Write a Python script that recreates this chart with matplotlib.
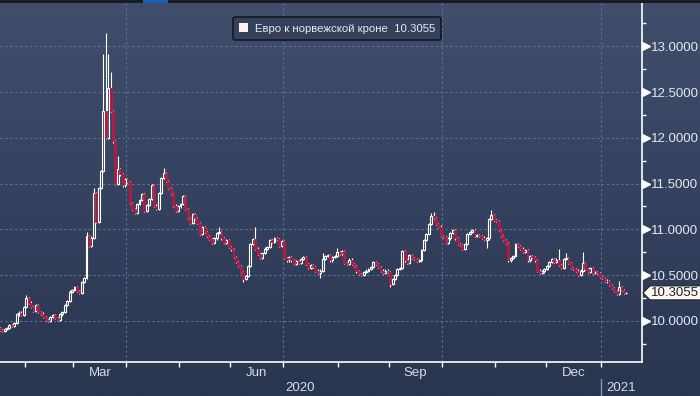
import numpy as np
import pandas as pd
import matplotlib
matplotlib.use('Agg')
import matplotlib.pyplot as plt
import matplotlib.transforms as mtransforms
from matplotlib.patches import Patch, Polygon, Rectangle
from matplotlib.lines import Line2D
from matplotlib.colors import LinearSegmentedColormap

plt.rcParams['font.family'] = ['Liberation Sans', 'DejaVu Sans']

# -------------------------------------------------------------
# Data: EUR/NOK daily closes, one list per month (trading days)
# -------------------------------------------------------------
jan20 = [9.90, 9.89, 9.91, 9.92, 9.95, 9.94, 9.98, 10.07, 10.09, 10.06, 10.15]
feb20 = [10.25, 10.20, 10.15, 10.11, 10.17, 10.10, 10.08, 10.04, 10.01, 10.00,
         10.04, 10.06, 10.03, 10.01, 10.07, 10.10, 10.17, 10.22, 10.32, 10.34]
mar20 = [10.37, 10.33, 10.30, 10.42, 10.47, 10.93, 10.82, 10.91, 11.40, 11.08, 11.45,
         11.64, 12.29, 12.00, 12.55, 12.29, 11.96, 11.50, 11.66, 11.60, 11.48, 11.55]
apr20 = [11.52, 11.29, 11.22, 11.18, 11.28, 11.32, 11.39, 11.20, 11.27, 11.33, 11.48,
         11.26, 11.22, 11.40, 11.56, 11.62, 11.53, 11.45, 11.39, 11.26, 11.20, 11.25]
may20 = [11.28, 11.36, 11.22, 11.12, 11.07, 11.17, 11.12, 11.07, 10.95, 11.02, 10.97,
         10.93, 10.89, 10.85, 10.90, 10.96, 10.97, 10.90, 10.85, 10.88, 10.81]
jun20 = [10.78, 10.70, 10.64, 10.60, 10.53, 10.46, 10.49, 10.60, 10.84, 10.89, 10.79,
         10.73, 10.69, 10.74, 10.79, 10.81, 10.88, 10.86, 10.90, 10.89, 10.82, 10.87]
jul20 = [10.69, 10.66, 10.70, 10.66, 10.62, 10.65, 10.63, 10.68, 10.70, 10.62, 10.58, 10.61,
         10.59, 10.55, 10.52, 10.55, 10.68, 10.71, 10.72, 10.66, 10.70, 10.71, 10.75]
aug20 = [10.73, 10.76, 10.63, 10.62, 10.67, 10.62, 10.60, 10.54, 10.51, 10.50, 10.53,
         10.55, 10.57, 10.59, 10.64, 10.62, 10.59, 10.55, 10.52, 10.55, 10.53]
sep20 = [10.40, 10.46, 10.50, 10.57, 10.58, 10.76, 10.66, 10.63, 10.72, 10.69, 10.68,
         10.65, 10.66, 10.77, 10.88, 10.95, 11.06, 11.15, 11.12, 11.06, 11.03, 10.93]
oct20 = [10.92, 10.85, 10.90, 10.96, 10.99, 10.90, 10.84, 10.83, 10.79, 10.84, 10.95,
         10.97, 10.99, 10.93, 10.94, 10.93, 10.91, 10.88, 10.90, 11.11, 11.16, 11.10]
nov20 = [11.09, 10.99, 10.93, 10.88, 10.85, 10.66, 10.69, 10.71, 10.84, 10.82, 10.79,
         10.75, 10.77, 10.66, 10.71, 10.70, 10.66, 10.55, 10.52, 10.54, 10.57]
dec20 = [10.60, 10.64, 10.68, 10.64, 10.67, 10.61, 10.58, 10.68, 10.69, 10.63, 10.58, 10.57,
         10.55, 10.50, 10.55, 10.63, 10.57, 10.53, 10.58, 10.52, 10.53, 10.52, 10.48]
jan21 = [10.47, 10.44, 10.43, 10.39, 10.36, 10.33, 10.29, 10.37, 10.34, 10.30, 10.3055]

first_open = 9.92

# notable wicks
hi_dates = ['2020-02-03', '2020-03-09', '2020-03-12', '2020-03-18', '2020-03-19',
            '2020-03-20', '2020-03-23', '2020-03-26', '2020-04-22', '2020-05-25',
            '2020-06-15', '2020-07-23', '2020-07-31', '2020-09-24', '2020-09-25',
            '2020-10-29', '2020-12-08', '2020-12-11', '2020-12-22', '2021-01-12']
hi_vals = [10.28, 10.97, 11.45, 12.92, 13.15,
           12.92, 12.72, 11.80, 11.67, 11.02,
           11.02, 10.74, 10.80, 11.18, 11.19,
           11.21, 10.78, 10.74, 10.75, 10.43]
lo_dates = ['2020-06-08', '2020-07-22', '2020-09-01', '2020-10-27']
lo_vals = [10.42, 10.47, 10.37, 10.80]

legend_label = 'Евро к норвежской кроне  10.3055'
last_label = '10.3055'
month_labels = {3: 'Mar', 6: 'Jun', 9: 'Sep', 12: 'Dec'}

# -------------------------------------------------------------
# Build OHLC
# -------------------------------------------------------------
dates = pd.bdate_range('2020-01-17', '2021-01-15')
closes = np.array(jan20 + feb20 + mar20 + apr20 + may20 + jun20 + jul20 +
                  aug20 + sep20 + oct20 + nov20 + dec20 + jan21)
opens = np.concatenate([[first_open], closes[:-1]])
WICK = 0.012
highs = np.maximum(opens, closes) + WICK
lows = np.minimum(opens, closes) - WICK
for d, v in zip(hi_dates, hi_vals):
    highs[dates.get_loc(pd.Timestamp(d))] = v
for d, v in zip(lo_dates, lo_vals):
    lows[dates.get_loc(pd.Timestamp(d))] = v

x = np.arange(len(dates))
up = closes >= opens
dn = ~up
body_top = np.maximum(opens, closes)
body_bot = np.minimum(opens, closes)

# -------------------------------------------------------------
# Figure
# -------------------------------------------------------------
W, H = 700, 396
fig = plt.figure(figsize=(W / 100, H / 100), dpi=100)

bg = fig.add_axes([0, 0, 1, 1], zorder=-10)
bg.axis('off')
cmap = LinearSegmentedColormap.from_list('bg', ['#404e6c', '#35425f', '#2a354f'])
bg.imshow(np.linspace(0, 1, 256).reshape(-1, 1), aspect='auto', cmap=cmap,
          extent=[0, 1, 0, 1])
bg.set_xlim(0, 1)
bg.set_ylim(0, 1)
# top strip
fig.patches.append(Rectangle((0, 1 - 2.5 / H), 1, 2.5 / H, transform=fig.transFigure,
                             facecolor='#1a1c21', edgecolor='none', zorder=5))
fig.patches.append(Rectangle((143 / W, 1 - 2.5 / H), 25 / W, 2.5 / H, transform=fig.transFigure,
                             facecolor='#1f5cb8', edgecolor='none', zorder=6))

ax = fig.add_axes([0, 34 / H, 642 / W, (394.5 - 34) / H])
ax.set_facecolor('none')
ax.set_xlim(0.1, 266.5)
ax.set_ylim(9.55, 13.49)

# month boundaries
month_start = [i for i in range(1, len(dates)) if dates[i].month != dates[i - 1].month]
bounds = [i - 0.5 for i in month_start]

grid_kw = dict(color='#5b7191', linestyle=(0, (2.2, 2.2)), linewidth=0.8, zorder=1)
for v in np.arange(10.0, 13.01, 0.5):
    ax.axhline(v, **grid_kw)
for i, b in zip(month_start, bounds):
    if dates[i].month in (1, 4, 7, 10):
        ax.axvline(b, **grid_kw)

# wicks
ax.vlines(x, body_top, highs, color='white', linewidth=0.8, zorder=2)
ax.vlines(x, lows, body_bot, color='white', linewidth=0.8, zorder=2)
# bodies
ax.bar(x[up], (closes - opens)[up], bottom=opens[up], width=0.8,
       facecolor='none', edgecolor='white', linewidth=0.8, zorder=3)
ax.bar(x[dn], (opens - closes)[dn], bottom=closes[dn], width=0.8,
       facecolor='#9c2149', edgecolor='#c8163f', linewidth=0.6, zorder=3)

# spines
for s in ('top', 'left'):
    ax.spines[s].set_visible(False)
for s in ('bottom', 'right'):
    ax.spines[s].set_color('white')
    ax.spines[s].set_linewidth(1.2)

# y axis
ax.yaxis.tick_right()
yt = np.arange(10.0, 13.01, 0.5)
ax.set_yticks(yt)
ax.set_yticklabels([f'{v:.4f}' for v in yt])
ax.set_yticks(np.arange(9.75, 13.4, 0.5), minor=True)
ax.tick_params(axis='y', which='major', length=0, pad=6.5, labelsize=9.5,
               labelcolor='#e6e9ef')
ax.tick_params(axis='y', which='minor', length=3.2, width=1, color='white')
tri_tr = ax.get_yaxis_transform() + mtransforms.ScaledTranslation(4 / 100, 0, fig.dpi_scale_trans)
ax.plot(np.ones(len(yt)), yt, linestyle='none', marker='>', markersize=6,
        color='white', transform=tri_tr, clip_on=False, zorder=5)

# x axis
ax.set_xticks(bounds)
ax.set_xticklabels([])
ax.tick_params(axis='x', which='major', length=3.5, width=1, color='white')
lab_pos, lab_txt = [], []
for k, i in enumerate(month_start):
    m = dates[i].month
    if m in month_labels and k + 1 < len(bounds):
        lab_pos.append((bounds[k] + bounds[k + 1]) / 2)
        lab_txt.append(month_labels[m])
ax.set_xticks(lab_pos, minor=True)
ax.set_xticklabels(lab_txt, minor=True)
ax.tick_params(axis='x', which='minor', length=0, pad=3.5, labelsize=9.5,
               labelcolor='#d8dde6')

# year labels and separator
jan_b = [b for i, b in zip(month_start, bounds) if dates[i].month == 1][0]
yr_tr = mtransforms.blended_transform_factory(ax.transData, fig.transFigure)
x0, x1 = ax.get_xlim()
ax.text((x0 + jan_b) / 2, 8 / H, '2020', transform=yr_tr, ha='center', va='center',
        fontsize=9.5, color='#d8dde6', clip_on=False)
ax.text((jan_b + x1) / 2, 8 / H, '2021', transform=yr_tr, ha='center', va='center',
        fontsize=9.5, color='#d8dde6', clip_on=False)
ax.add_line(Line2D([jan_b, jan_b], [0, 17 / H], transform=yr_tr, color='#8893a8',
                   linewidth=1, clip_on=False))

# legend
leg = ax.legend(handles=[Patch(facecolor='#fdf2ec', edgecolor='none')], labels=[legend_label],
                loc='center', bbox_to_anchor=(0.525, 0.925), frameon=True, fancybox=True,
                facecolor='#34405c', edgecolor='#15181f', framealpha=1, fontsize=8.2,
                labelcolor='#e8eaf0', handlelength=0.75, handleheight=0.75,
                handletextpad=0.6, borderpad=0.55)
leg.get_frame().set_linewidth(1.2)

# last price tag
yc = fig.transFigure.inverted().transform(ax.transData.transform((0, closes[-1])))[1] * H
pts = np.array([[643, yc], [650, yc + 7], [701, yc + 7], [701, yc - 7], [650, yc - 7]])
pts = pts / np.array([W, H])
fig.patches.append(Polygon(pts, closed=True, transform=fig.transFigure, facecolor='#fff6ec',
                           edgecolor='#1d2230', linewidth=0.8, zorder=6))
fig.text(651 / W, yc / H, last_label, ha='left', va='center', fontsize=9.5,
         color='#1b2030', zorder=7)

fig.savefig('out.png', dpi=100)
